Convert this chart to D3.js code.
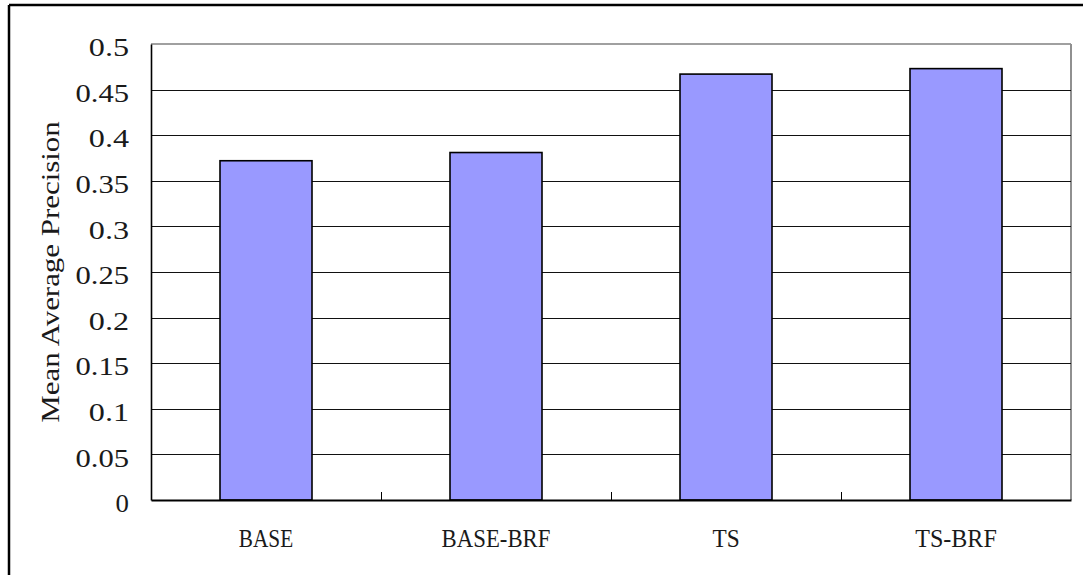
<!DOCTYPE html>
<html>
<head>
<meta charset="utf-8">
<script src="https://cdn.jsdelivr.net/npm/d3@7"></script>
<style>
  html, body { margin: 0; padding: 0; background: #fff; }
  svg { display: block; }
  text { font-family: "Liberation Serif", "DejaVu Serif", serif; fill: #1a1a1a; }
</style>
</head>
<body>
<script>
// Mean average precision for each retrieval run
const categories = ["BASE", "BASE-BRF", "TS", "TS-BRF"];
const mapValues = [0.372, 0.381, 0.467, 0.473];
const yTicks = [0, 0.05, 0.1, 0.15, 0.2, 0.25, 0.3, 0.35, 0.4, 0.45, 0.5];
const yTickLabels = ["0", "0.05", "0.1", "0.15", "0.2", "0.25", "0.3", "0.35", "0.4", "0.45", "0.5"];
const yTitle = "Mean Average Precision";

const W = 1083, H = 575;
const plot = { left: 151, right: 1071, top: 44, bottom: 500 };
const charW = 13.4; // fixed advance per character, monospace-style labels

const svg = d3.select("body").append("svg")
  .attr("width", W).attr("height", H);

// chart frame (left and top edges of the outer box)
svg.append("line").attr("x1", 9).attr("x2", 9).attr("y1", 5).attr("y2", H)
  .attr("stroke", "#000").attr("stroke-width", 2.5);
svg.append("line").attr("x1", 9).attr("x2", W).attr("y1", 5).attr("y2", 5)
  .attr("stroke", "#000").attr("stroke-width", 2.5);

const x = d3.scaleBand()
  .domain(categories)
  .range([plot.left, plot.right])
  .paddingInner(0.6)
  .paddingOuter(0.3);

const y = d3.scaleLinear()
  .domain([0, 0.5])
  .range([plot.bottom, plot.top]);

// plot area outline: grey top/right
svg.append("line")
  .attr("x1", plot.left).attr("x2", plot.right)
  .attr("y1", y(0.5)).attr("y2", y(0.5))
  .attr("stroke", "#808080").attr("stroke-width", 1.5);
svg.append("line")
  .attr("x1", plot.right).attr("x2", plot.right)
  .attr("y1", plot.top).attr("y2", plot.bottom)
  .attr("stroke", "#909090").attr("stroke-width", 2);

// horizontal gridlines
svg.append("g")
  .selectAll("line")
  .data(yTicks.filter(v => v > 0 && v < 0.5))
  .join("line")
  .attr("x1", plot.left).attr("x2", plot.right)
  .attr("y1", d => Math.round(y(d)) + 0.5).attr("y2", d => Math.round(y(d)) + 0.5)
  .attr("stroke", "#111").attr("stroke-width", 1);

// bars
svg.append("g")
  .selectAll("rect")
  .data(categories.map((c, i) => ({ c, v: mapValues[i] })))
  .join("rect")
  .attr("x", d => x(d.c))
  .attr("y", d => y(d.v))
  .attr("width", x.bandwidth())
  .attr("height", d => y(0) - y(d.v))
  .attr("fill", "#9999FF")
  .attr("stroke", "#000")
  .attr("stroke-width", 1.6);

// y axis
const yAxis = svg.append("g")
  .attr("transform", `translate(${plot.left},0)`)
  .call(d3.axisLeft(y)
    .tickValues(yTicks)
    .tickFormat((d, i) => yTickLabels[i])
    .tickSize(0)
    .tickPadding(22));
yAxis.select(".domain").attr("stroke", "#000").attr("stroke-width", 1.6);
yAxis.selectAll("text")
  .attr("font-size", 26)
  .attr("font-family", null)
  .attr("fill", "#1a1a1a")
  .attr("dy", "0.45em")
  .attr("textLength", function () { return this.textContent.length * charW; })
  .attr("lengthAdjust", "spacingAndGlyphs");

// x axis
const xAxis = svg.append("g")
  .attr("transform", `translate(0,${plot.bottom})`)
  .call(d3.axisBottom(x).tickSize(0).tickPadding(0));
xAxis.select(".domain").attr("stroke", "#000").attr("stroke-width", 2);
xAxis.selectAll("text")
  .attr("font-size", 25)
  .attr("font-family", null)
  .attr("fill", "#1a1a1a")
  .attr("y", 47)
  .attr("dy", 0)
  .attr("textLength", function () { return this.textContent.length * 13.6; })
  .attr("lengthAdjust", "spacingAndGlyphs");

// category separator ticks pointing into the plot
const sepX = categories.slice(1).map(c => x(c) - x.step() * x.paddingInner() / 2);
svg.append("g")
  .selectAll("line")
  .data(sepX)
  .join("line")
  .attr("x1", d => Math.round(d) + 0.5).attr("x2", d => Math.round(d) + 0.5)
  .attr("y1", plot.bottom).attr("y2", plot.bottom - 8)
  .attr("stroke", "#000").attr("stroke-width", 1);

// y axis title
const titleY = (plot.top + plot.bottom) / 2;
svg.append("text")
  .attr("transform", `translate(59,${titleY}) rotate(-90)`)
  .attr("text-anchor", "middle")
  .attr("font-size", 26)
  .attr("textLength", yTitle.length * 13.7)
  .attr("lengthAdjust", "spacingAndGlyphs")
  .text(yTitle);
</script>
</body>
</html>
